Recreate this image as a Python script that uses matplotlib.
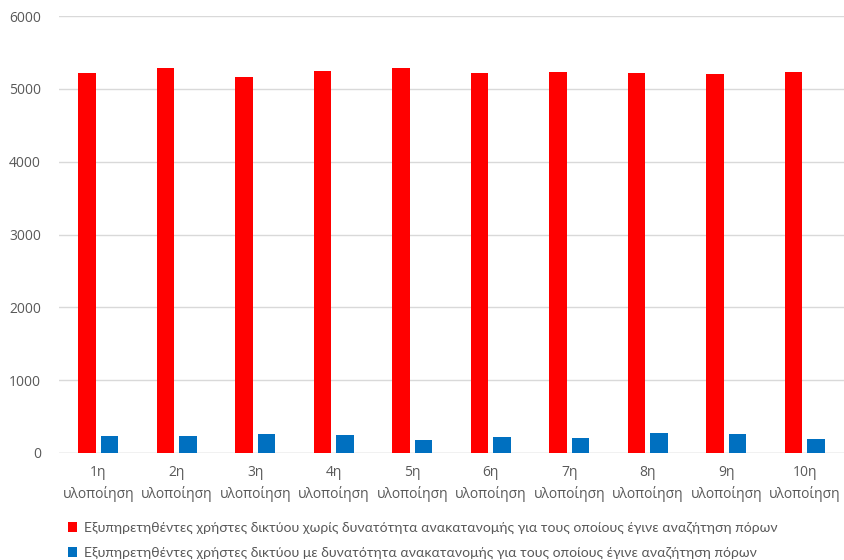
import numpy as np
import matplotlib.pyplot as plt

categories = ['1η\nυλοποίηση', '2η\nυλοποίηση', '3η\nυλοποίηση', '4η\nυλοποίηση', '5η\nυλοποίηση',
              '6η\nυλοποίηση', '7η\nυλοποίηση', '8η\nυλοποίηση', '9η\nυλοποίηση', '10η\nυλοποίηση']
without_realloc = [5218, 5287, 5163, 5245, 5287, 5218, 5231, 5218, 5204, 5231]
with_realloc = [228, 233, 261, 247, 178, 220, 206, 274, 261, 192]
label_without = 'Εξυπηρετηθέντες χρήστες δικτύου χωρίς δυνατότητα ανακατανομής για τους οποίους έγινε αναζήτηση πόρων'
label_with = 'Εξυπηρετηθέντες χρήστες δικτύου με δυνατότητα ανακατανομής για τους οποίους έγινε αναζήτηση πόρων'

plt.rcParams['font.family'] = ['Open Sans', 'DejaVu Sans']
grey = '#595959'

fig = plt.figure(figsize=(8.44, 5.6), dpi=100)
ax = fig.add_axes([59 / 844, (560 - 453) / 560, 785 / 844, (453 - 16) / 560])

x = np.arange(len(categories))
w = 0.22
ax.bar(x - 0.145, without_realloc, w, color='#FF0000', label=label_without, zorder=3)
ax.bar(x + 0.145, with_realloc, w, color='#0070C0', label=label_with, zorder=3)

ax.set_xlim(-0.5, 9.5)
ax.set_ylim(0, 6000)
ax.set_yticks(range(0, 6001, 1000))
ax.set_xticks(x)
ax.set_xticklabels(categories, fontsize=10, color=grey, linespacing=1.45)
ax.tick_params(axis='y', labelsize=10, labelcolor=grey, length=0, pad=13)
ax.tick_params(axis='x', length=0, pad=9)
ax.grid(axis='y', color='#D9D9D9', linewidth=1, zorder=0)
for s in ax.spines.values():
    s.set_visible(False)
ax.axhline(0, color='#D9D9D9', linewidth=1, zorder=2)

leg = fig.legend(loc='upper left', bbox_to_anchor=(62 / 844, 1 - 516 / 560), frameon=False,
                 fontsize=10.1, handlelength=0.7, handleheight=0.7, handletextpad=0.5,
                 labelspacing=0.95, borderaxespad=0)
for t in leg.get_texts():
    t.set_color(grey)
    t.set_fontfamily(['Lato', 'DejaVu Sans'])

fig.savefig('out.png', dpi=100)
